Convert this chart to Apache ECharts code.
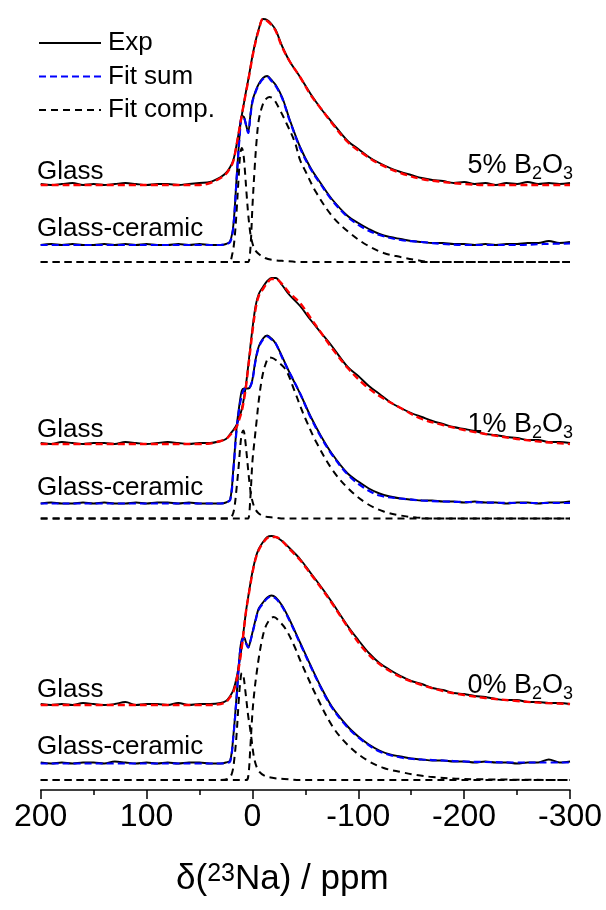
<!DOCTYPE html>
<html><head><meta charset="utf-8">
<script src="https://cdn.jsdelivr.net/npm/echarts@6/dist/echarts.min.js"></script>
<style>html,body{margin:0;padding:0;background:#fff}#c{width:606px;height:910px}</style>
</head><body><div id="c"></div>
<script>
// x grids (ppm)
const xExp = [200,190,180,170,160,150,140,130,120,110,100,90,80,70,60,50,40,
  30,25,21,18,15,12,10,8,6,4,2,0,-3,-6,-10,-14,-18,-22,-28,-35,-45,-55,-65,-75,-90,
  -100,-110,-120,-130,-140,-150,-160,-170,-180,-190,-200,-210,-220,-230,-240,-250,-260,-270,-280,-290,-300];
const xFit = [200,100,50,40,30,25,21,18,15,12,10,8,6,4,2,0,-3,-6,-10,-14,-18,-22,-28,-35,-45,-55,-65,-75,-90,
  -105,-120,-140,-160,-180,-200,-220,-250,-275,-300];
const xNarrow = [200,30,22,19,17,15,13,11.5,10,8.5,7,5.5,4,2.5,1,-2,-6,-12,-20,-30,-45,-300];
const xBroad = [200,10,6,4,2,0,-2,-4,-6,-9,-12,-16,-20,-26,-32,-40,-45,-50,-60,-76,-92,-108,-124,-140,-155,-170,-200,-300];

// vertical offsets of each trace (stacked display)
const offsets = {
  b5:  {glass: 605, gc: 545, comp: 528},
  b1:  {glass: 346, gc: 286.5, comp: 271.5},
  b0:  {glass: 85,  gc: 26.5, comp: 10}
};

// ---- 5% B2O3 ----
const exp5Glass = [1,0,1,2,0,1,0,1,2,1,0,1,1,0,1,2,3,
  8,12,18,25,40,58,70,82,94,105,117,129,144,156,166,165,161,155,139,124,108,91,76,63,44,
  36,28,22,17,13,10,7,5,4,2,3,1,2,0,2,1,3,1,2,1,2];
const fit5Glass = [0,0,0,2,7,11,17,24,40,58,70,82,93,104,116,128,143,155,166,164,160,154,138,124,108,90,76,62,43,
  31,21,12,6,3,1,0,0,0,0];
const exp5GC = [0,1,0,1,0,0,1,0,1,0,1,0,0,1,0,1,0,
  0,1,4,20,66,111,129,128,120,113,129,144,154,161,167,169,165,160,148,126,98,77,61,46,29,
  22,16,11,8,6,4,3,2,2,1,1,0,1,0,1,1,2,2,4,2,3];
const fit5GC = [0,0,0,0,0,1,3,18,65,110,128,127,120,112,128,143,153,160,166,168,164,159,147,125,97,76,60,45,28,
  17,10,5,3,1,0,0,0,1,1.5];
const comp5Narrow = [0,0,0,8,22,50,85,108,114,108,90,68,48,33,23,13,8,4,2,1,0,0];
const comp5Broad = [0,0,0,0,12,55,92,122,142,155,162,165,163,152,139,120,102,91,70,45,29,17,9,5,2,0,0,0];

// ---- 1% B2O3 ----
const exp1Glass = [1,0,2,1,0,1,1,0,2,1,0,1,2,1,0,1,1,
  3,5,10,14,19,28,35,46,60,78,97,115,138,150,157,163,166,166,159,149,138,124,111,98,77,
  68,58,50,42,36,31,27,23,20,17,15,13,10,9,7,6,4,4,2,2,1];
const fit1Glass = [0,0,0,0.5,3,5,9,13,17,26,33,44,58,76,94,112,135,148,155,161,165,165,160,151,141,126,111,96,76,
  60,48,36,25,19,14,10,5,2,0];
const exp1GC = [0,1,0,0,1,0,1,0,0,1,0,1,1,0,1,0,0,
  0,1,4,35,75,101,113,115,115,115,117,124,144,157,165,168,165,160,147,131,110,87,67,50,30,
  22,15,10,7,5,4,3,3,2,2,1,2,1,1,0,1,1,0,1,1,2];
const fit1GC = [0,0,0,0,0,1,3.5,33,73,98,108,114,115,115,117,123,143,156,164,167,164,160,146,131,110,86,66,49,29,
  16,8,5,3,2,1.5,1,0.5,0.5,0.5];
const comp1Narrow = [0,0,0,3,11,30,52,72,85,88,80,65,48.5,33,22,11,5,2,1,0,0,0];
const comp1Broad = [0,0,0,0,20,57,78,98,118,140,153,161,160,155,148,127,113,100,77,48,28.5,15,7,3,1,0,0,0];

// ---- 0% B2O3 ----
const exp0Glass = [1,0,1,0,2,1,0,1,3,0,1,1,0,2,0,1,1,
  2,4,9,15,27,45,59,77,94,108,121,133,147,156,163,168,169,168,164,157,146,132,118,103,79,
  65,52,42,35,29,24,21,17,15,12,11,9,8,6,5,5,3,3,2,2,1];
const fit0Glass = [0,0,0,0,1,3,8,13,25,43,58,76,94,107,120,132,146,155,162,167,168,168,164,156,145,131,117,102,78,
  56,41,28,20,14,10,7,4,2,1];
const exp0GC = [1,0,1,0,1,1,0,2,1,0,1,0,1,0,1,1,0,
  0,1,3,28,67,110,124,126,121,116,122,131,144,155,161,166,168,166,158,144,121,98,76,57,37,
  27,19,13,9,7,5,4,3,3,2,2,1,2,1,1,0,1,1,4,1,2];
const fit0GC = [0,0,0,0,0,0.5,2,27,65,108,122,125,120,116,122,130,143,154,160,165,167,165,157,143,120,97,75,56,36,
  22,12,6,4,3,2,1.5,1,1,1];
const comp0Narrow = [0,0,2,8,22,45,78,98,107,104,92,78,64,54,42,20,9,4,2,1,0,0];
const comp0Broad = [0,0,0,3,32,67,90,107,122,140,152,160,163,158,150,133,120,108,85,53,33,20,12,8,5,3,1,0];

// tick values of x axis
const xTicks = [200,100,0,-100,-200,-300];

const FONT = 'Liberation Sans, Arial, sans-serif';
function pts(xs, ys, off){ return xs.map((x,i)=>[x, ys[i]+off]); }

const panels = [
  {o: offsets.b5, eg: exp5Glass, fg: fit5Glass, ec: exp5GC, fc: fit5GC, cn: comp5Narrow, cb: comp5Broad},
  {o: offsets.b1, eg: exp1Glass, fg: fit1Glass, ec: exp1GC, fc: fit1GC, cn: comp1Narrow, cb: comp1Broad},
  {o: offsets.b0, eg: exp0Glass, fg: fit0Glass, ec: exp0GC, fc: fit0GC, cn: comp0Narrow, cb: comp0Broad}
];

const base = {type:'line', symbol:'none', smooth:0.35, silent:true, animation:false};
const series = [];
panels.forEach(p=>{
  series.push(Object.assign({}, base, {name:'Exp', z:3, data: pts(xExp, p.eg, p.o.glass),
    lineStyle:{color:'#000', width:1.9, type:'solid'}, itemStyle:{color:'#000', opacity:0}}));
  series.push(Object.assign({}, base, {name:'Exp', z:3, data: pts(xExp, p.ec, p.o.gc),
    lineStyle:{color:'#000', width:1.9, type:'solid'}, itemStyle:{color:'#000', opacity:0}}));
});
panels.forEach(p=>{
  series.push(Object.assign({}, base, {name:'Fit sum', z:4, data: pts(xFit, p.fc, p.o.gc),
    lineStyle:{color:'#0000ff', width:2.2, type:[7,4]}, itemStyle:{color:'#0000ff', opacity:0}}));
  series.push(Object.assign({}, base, {name:'Glass fit', z:4, data: pts(xFit, p.fg, p.o.glass),
    lineStyle:{color:'#ff0000', width:2.4, type:[7,4]}, itemStyle:{color:'#ff0000', opacity:0}}));
  series.push(Object.assign({}, base, {name:'Fit comp.', z:2, data: pts(xNarrow, p.cn, p.o.comp),
    lineStyle:{color:'#000', width:2, type:[7,5]}, itemStyle:{color:'#000', opacity:0}}));
  series.push(Object.assign({}, base, {name:'Fit comp.', z:2, data: pts(xBroad, p.cb, p.o.comp),
    lineStyle:{color:'#000', width:2, type:[7,5]}, itemStyle:{color:'#000', opacity:0}}));
});

const txt = (s, x, y) => ({type:'text', x:x, y:y, silent:true,
  style:{text:s, fill:'#000', font:'26px ' + FONT, align:'left', verticalAlign:'middle'}});
const boronRich = {
  n:{fontSize:27, lineHeight:27, fontFamily:FONT, verticalAlign:'top', fill:'#000'},
  s:{fontSize:18, lineHeight:18, fontFamily:FONT, verticalAlign:'top', padding:[13,0,0,0], fill:'#000'}
};
const boron = (pct, y) => ({type:'text', x:573, y:y, silent:true,
  style:{text:'{n|' + pct + '% B}{s|2}{n|O}{s|3}', rich: boronRich, fill:'#000', font:'27px ' + FONT,
    align:'right', verticalAlign:'middle'}});

const chart = echarts.init(document.getElementById('c'), null, {renderer:'canvas'});
chart.setOption({
  backgroundColor:'#fff',
  animation:false,
  grid:{left:40.7, right:36, top:0, bottom:120, containLabel:false},
  xAxis:{
    type:'value', min:-300, max:200, interval:100, inverse:true,
    axisLine:{show:true, onZero:false, lineStyle:{color:'#000', width:1.5}},
    axisTick:{show:true, inside:false, length:9, lineStyle:{color:'#000', width:1.5}},
    minorTick:{show:true, splitNumber:2, length:5, lineStyle:{color:'#000', width:1.5}},
    splitLine:{show:false}, minorSplitLine:{show:false},
    axisLabel:{fontSize:32, color:'#000', margin:11, fontFamily:FONT,
      formatter:(v)=> xTicks.indexOf(v) >= 0 ? String(v) : ''},
    name:'{a|δ(}{b|23}{a|Na) / ppm}',
    nameLocation:'middle', nameGap:72,
    nameTextStyle:{color:'#000', fontFamily:FONT, fontSize:34, padding:[0,46,0,0],
      rich:{
        a:{fontSize:35, lineHeight:35, padding:[13,0,0,0], verticalAlign:'bottom', fontFamily:FONT, color:'#000'},
        b:{fontSize:25, lineHeight:25, padding:[0,0,12,0], verticalAlign:'top', fontFamily:FONT, color:'#000'}
      }}
  },
  yAxis:{type:'value', min:0, max:790, show:false},
  legend:{
    data:['Exp','Fit sum','Fit comp.'], orient:'vertical', left:38, top:30,
    itemWidth:62, itemHeight:14, itemGap:7.5, padding:0, selectedMode:false,
    itemStyle:{opacity:0},
    textStyle:{fontSize:26, lineHeight:26, color:'#000', fontFamily:FONT, padding:[0,0,0,2]}
  },
  graphic:[
    txt('Glass', 37, 172), txt('Glass-ceramic', 37, 229),
    txt('Glass', 37, 430), txt('Glass-ceramic', 37, 488),
    txt('Glass', 37, 690), txt('Glass-ceramic', 37, 747),
    boron(5, 166), boron(1, 425), boron(0, 686)
  ],
  series: series
});
</script>
</body></html>
